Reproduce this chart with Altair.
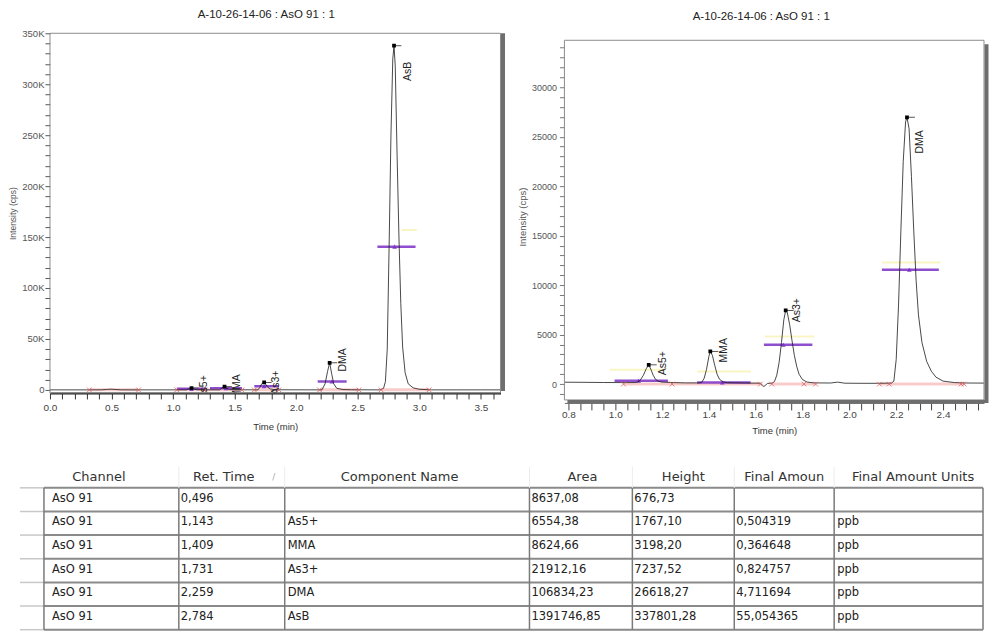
import altair as alt
import pandas as pd

# ---------------- data ----------------
TITLE = "A-10-26-14-06 : AsO 91 : 1"

# full chromatogram (left panel)
full_time = [0.0, 0.3, 0.42, 0.46, 0.496, 0.53, 0.58, 0.7, 1.0, 1.11, 1.125, 1.15, 1.17, 1.19,
             1.38, 1.395, 1.418, 1.435, 1.46, 1.69, 1.705, 1.72, 1.74, 1.755, 1.77, 1.79, 1.83,
             2.21, 2.235, 2.255, 2.272, 2.29, 2.305, 2.33, 2.38, 2.45,
             2.68, 2.71, 2.725, 2.74, 2.755, 2.77, 2.785, 2.795, 2.805, 2.82, 2.835, 2.85, 2.865,
             2.885, 2.91, 2.95, 3.0, 3.1, 3.3, 3.5, 3.66]
full_int = [0, 0, 50, 400, 680, 400, 50, 0, 0, 0, 900, 1770, 900, 100,
            0, 1600, 3200, 1600, 200, 0, 2500, 6000, 7240, 5000, 2500, 900, 100,
            0, 6000, 18000, 26600, 15000, 6000, 1500, 300, 100,
            0, 1500, 8000, 40000, 140000, 250000, 325000, 337800, 318000, 230000, 150000, 85000, 42000,
            17000, 6000, 2000, 600, 0, 0, 0, 0]

# zoomed chromatogram (right panel)
zoom_time = [0.783, 0.85, 0.95, 1.05, 1.09, 1.105, 1.12, 1.133, 1.143, 1.152, 1.162, 1.172, 1.185,
             1.20, 1.25, 1.30, 1.36, 1.37, 1.38, 1.39, 1.40, 1.406, 1.415, 1.425, 1.435, 1.445,
             1.46, 1.48, 1.55, 1.62, 1.635, 1.65, 1.67, 1.68, 1.69, 1.70, 1.71, 1.72, 1.728,
             1.735, 1.745, 1.755, 1.765, 1.775, 1.785, 1.80, 1.82, 1.85, 1.92, 1.95, 1.98, 2.05,
             2.12, 2.18, 2.19, 2.20, 2.21, 2.22, 2.23, 2.24, 2.246, 2.255, 2.265, 2.275, 2.285,
             2.295, 2.31, 2.33, 2.35, 2.37, 2.40, 2.45, 2.50, 2.575]
zoom_int = [190, 180, 160, 150, 160, 330, 880, 1580, 1950, 1500, 900, 480, 280,
            200, 150, 120, 120, 190, 600, 1500, 2800, 3300, 2900, 1900, 1000, 500,
            220, 140, 110, 90, -250, 60, 100, 250, 900, 2200, 4200, 6500, 7440,
            7200, 6000, 4400, 2900, 1800, 1000, 450, 200, 120, 110, 200, 90, 80,
            80, 100, 300, 2500, 8000, 15500, 22500, 26500, 26970, 25800, 21000, 15500, 10500,
            7000, 4200, 2300, 1300, 700, 300, 150, 110, 100]

# left panel peak annotations
full_names = ["As5+", "MMA", "As3+", "DMA", "AsB"]
full_apex_t = [1.15, 1.418, 1.74, 2.272, 2.795]
full_apex_i = [1770, 3200, 7240, 26600, 337800]
full_label_t = [1.25, 1.52, 1.84, 2.384, 2.91]
full_label_i = [14400, 15400, 19000, 40900, 322000]
full_bar_start = [1.03, 1.30, 1.66, 2.175, 2.66]
full_bar_end = [1.27, 1.56, 1.86, 2.41, 2.97]
full_bar_i = [1000, 1600, 3600, 8200, 140600]
full_bar_mark = [1.15, 1.43, 1.74, 2.29, 2.80]
full_yel_start = [2.86]
full_yel_end = [2.98]
full_yel_i = [157000]
full_base_start = [0.32, 1.03, 1.66, 2.19, 2.69]
full_base_end = [0.72, 1.56, 1.86, 2.51, 3.08]
full_cross_t = [0.32, 0.72, 1.03, 1.26, 1.56, 1.66, 1.86, 2.19, 2.51, 2.69, 3.08]

# right panel peak annotations
zoom_names = ["As5+", "MMA", "As3+", "DMA"]
zoom_apex_t = [1.143, 1.406, 1.728, 2.246]
zoom_apex_i = [1950, 3300, 7440, 26970]
zoom_label_t = [1.203, 1.463, 1.778, 2.30]
zoom_label_i = [3330, 4650, 8690, 25650]
zoom_bar_start = [0.997, 1.35, 1.635, 2.139]
zoom_bar_end = [1.225, 1.578, 1.842, 2.382]
zoom_bar_i = [330, 170, 3970, 11550]
zoom_bar_mark = [1.10, 1.457, 1.718, 2.256]
zoom_yel_start = [0.977, 1.35, 1.64, 2.14]
zoom_yel_end = [1.213, 1.58, 1.85, 2.39]
zoom_yel_i = [1440, 1280, 4820, 12300]
zoom_base_start = [1.035, 1.668, 2.128]
zoom_base_end = [1.62, 1.856, 2.49]
zoom_cross_t = [1.035, 1.243, 1.62, 1.668, 1.806, 1.856, 2.128, 2.17, 2.477, 2.49]

# results table
headers = ["Channel", "Ret. Time", "Component Name", "Area", "Height", "Final Amoun", "Final Amount Units"]
channel = ["AsO 91", "AsO 91", "AsO 91", "AsO 91", "AsO 91", "AsO 91"]
ret_time = ["0,496", "1,143", "1,409", "1,731", "2,259", "2,784"]
component = ["", "As5+", "MMA", "As3+", "DMA", "AsB"]
area = ["8637,08", "6554,38", "8624,66", "21912,16", "106834,23", "1391746,85"]
height_vals = ["676,73", "1767,10", "3198,20", "7237,52", "26618,27", "337801,28"]
final_amount = ["", "0,504319", "0,364648", "0,824757", "4,711694", "55,054365"]
units = ["", "ppb", "ppb", "ppb", "ppb", "ppb"]

# ---------------- styling ----------------
FONT = "Liberation Sans, Arial, sans-serif"
TFONT = "DejaVu Sans, Verdana, sans-serif"
PURPLE = "#7a2fc4"
PINK = "#f2a0a0"
YELLOW = "#f5ee9a"
FRAME = "#8c8c8c"


def panel(line_t, line_i, names, apex_t, apex_i, lab_t, lab_i, bar_s, bar_e, bar_i, bar_m,
          yel_s, yel_e, yel_i, base_s, base_e, cross_t, xdom, ydom, w, h, xaxis, yaxis,
          tick_dt, title_offset, title_dx, frame_top, shadow):
    xs = alt.Scale(domain=xdom, nice=False, zero=False)
    ys = alt.Scale(domain=ydom, nice=False, zero=False)
    line_df = pd.DataFrame({"t": line_t, "i": line_i})
    peak_df = pd.DataFrame({"name": names, "t": apex_t, "i": apex_i, "lt": lab_t, "li": lab_i})
    bar_df = pd.DataFrame({"s": bar_s, "e": bar_e, "i": bar_i, "m": bar_m})
    yel_df = pd.DataFrame({"s": yel_s, "e": yel_e, "i": yel_i})
    base_df = pd.DataFrame({"s": base_s, "e": base_e})
    cross_df = pd.DataFrame({"t": cross_t})

    def X(f):
        return alt.X(f, type="quantitative", scale=xs, axis=xaxis)

    def Y(f):
        return alt.Y(f, type="quantitative", scale=ys, axis=yaxis)

    base = alt.Chart(base_df).mark_rule(color=PINK, strokeWidth=3, opacity=0.55, clip=True).encode(
        x=X("s"), x2="e", y=Y("zero")
    ).transform_calculate(zero="0")
    yel = alt.Chart(yel_df).mark_rule(color=YELLOW, strokeWidth=2, opacity=0.6, clip=True).encode(
        x=X("s"), x2="e", y=Y("i"))
    bars = alt.Chart(bar_df).mark_rule(color=PURPLE, strokeWidth=2.5, opacity=0.85, clip=True).encode(
        x=X("s"), x2="e", y=Y("i"))
    bar_pts = alt.Chart(bar_df).mark_point(shape="triangle-up", filled=True, color=PURPLE,
                                           size=22, opacity=0.9, clip=True).encode(
        x=X("m"), y=Y("i"))
    line = alt.Chart(line_df).mark_line(color="#1a1a1a", strokeWidth=0.8, clip=True).encode(
        x=X("t"), y=Y("i"))
    apex_tick = alt.Chart(peak_df).mark_rule(color="#555", strokeWidth=1, clip=True).encode(
        x=X("t"), x2="e:Q", y=Y("i")
    ).transform_calculate(e=f"datum.t + {tick_dt}")
    apex = alt.Chart(peak_df).mark_square(color="#000", size=14, opacity=1, clip=True).encode(
        x=X("t"), y=Y("i"))
    labels = alt.Chart(peak_df).mark_text(angle=270, align="right", baseline="middle",
                                          font=FONT, fontSize=10.5, color="#222", clip=True).encode(
        x=X("lt"), y=Y("li"), text="name:N")
    crosses = alt.Chart(cross_df).mark_point(shape="M-1,-1L1,1M-1,1L1,-1", size=22, filled=False,
                                             color="#e06060", strokeWidth=1, opacity=0.8,
                                             clip=True).encode(
        x=X("t"), y=Y("zero")
    ).transform_calculate(zero="0")

    # frame (drawn explicitly so that its top can sit below the view top)
    fr = pd.DataFrame({"k": [0]})
    frame = [
        alt.Chart(fr).mark_rule(color=FRAME, strokeWidth=1).encode(
            x=alt.value(0), x2=alt.value(w), y=alt.value(frame_top)),
        alt.Chart(fr).mark_rule(color=FRAME, strokeWidth=1).encode(
            x=alt.value(0), x2=alt.value(w), y=alt.value(h)),
        alt.Chart(fr).mark_rule(color=FRAME, strokeWidth=1).encode(
            x=alt.value(0), y=alt.value(frame_top), y2=alt.value(h)),
        alt.Chart(fr).mark_rule(color=FRAME, strokeWidth=1).encode(
            x=alt.value(w), y=alt.value(frame_top), y2=alt.value(h)),
    ]
    extra = []
    if shadow == "right":
        extra.append(alt.Chart(fr).mark_rule(color="#6e6e6e", strokeWidth=4).encode(
            x=alt.value(w + 2.5), y=alt.value(0), y2=alt.value(h - 2)))
    if shadow == "box":
        extra.append(alt.Chart(fr).mark_rule(color="#6e6e6e", strokeWidth=4).encode(
            x=alt.value(w + 2.5), y=alt.value(frame_top + 4), y2=alt.value(h + 3)))
        extra.append(alt.Chart(fr).mark_rule(color="#6e6e6e", strokeWidth=3).encode(
            x=alt.value(3), x2=alt.value(w + 4), y=alt.value(h + 1.5)))

    layers = [base, yel, bars, bar_pts, line, crosses, apex_tick, apex, labels] + frame + extra
    return alt.layer(*layers).properties(
        width=w, height=h,
        title=alt.TitleParams(TITLE, font=FONT, fontSize=11.5, fontWeight="normal", color="#222",
                              anchor="middle", offset=title_offset, dx=title_dx, frame="group"),
        view=alt.ViewBackground(stroke="transparent"),
    )


# ---- left panel axes ----
full_xvals = [round(k * 0.1, 1) for k in range(0, 37)]
full_yvals = [k * 10000 for k in range(0, 36)]
left_xaxis = alt.Axis(values=full_xvals, title="Time (min)", tickSize=6, tickColor="#333",
                      domainColor="#222", domainWidth=2, labelFont=FONT, labelFontSize=10,
                      labelColor="#444", labelPadding=3.5, labelFlush=False, labelOverlap=False,
                      labelExpr="abs(datum.value*2 - round(datum.value*2)) < 0.001 ? format(datum.value, '.1f') : ''",
                      titleFont=FONT, titleFontSize=9.5, titleFontWeight="normal", titleColor="#333",
                      titlePadding=9, grid=False)
left_yaxis = alt.Axis(values=full_yvals, title="Intensity (cps)", tickSize=5, tickColor="#555",
                      domain=False, labelFont=FONT, labelFontSize=9.5, labelColor="#555",
                      labelPadding=1, labelOverlap=False, labelFlush=False,
                      labelExpr="datum.value % 50000 == 0 ? (datum.value == 0 ? '0' : (datum.value/1000) + 'K') : ''",
                      titleFont=FONT, titleFontSize=8.5, titleFontWeight="normal", titleColor="#555",
                      titlePadding=4, grid=False)

# ---- right panel axes ----
zoom_xvals = [round(0.8 + k * 0.05, 2) for k in range(0, 36)]
zoom_yvals = [k * 1000 for k in range(-1, 35)]
right_xaxis = alt.Axis(values=zoom_xvals, title="Time (min)", tickSize=7, tickColor="#444",
                       domainColor="#666", offset=3, labelFont=FONT, labelFontSize=10,
                       labelColor="#444", labelPadding=0, labelFlush=False, labelOverlap=False,
                       labelExpr="abs(datum.value*5 - round(datum.value*5)) < 0.001 ? format(datum.value, '.1f') : ''",
                       titleFont=FONT, titleFontSize=9.5, titleFontWeight="normal", titleColor="#333",
                       titlePadding=6, grid=False)
right_yaxis = alt.Axis(values=zoom_yvals, title="Intensity (cps)", tickSize=5, tickColor="#777",
                       domain=False, labelFont=FONT, labelFontSize=9, labelColor="#555",
                       labelPadding=3, labelOverlap=False, labelFlush=False,
                       labelExpr="datum.value % 5000 == 0 ? format(datum.value, 'd') : ''",
                       titleFont=FONT, titleFontSize=9.5, titleFontWeight="normal", titleColor="#555",
                       titlePadding=3.5, grid=False)

left = panel(full_time, full_int, full_names, full_apex_t, full_apex_i, full_label_t, full_label_i,
             full_bar_start, full_bar_end, full_bar_i, full_bar_mark, full_yel_start, full_yel_end,
             full_yel_i, full_base_start, full_base_end, full_cross_t,
             [0, 3.66], [-3000, 350000], 451, 360, left_xaxis, left_yaxis, 0.06, 7.5, -9,
             0, "right")
right = panel(zoom_time, zoom_int, zoom_names, zoom_apex_t, zoom_apex_i, zoom_label_t, zoom_label_i,
              zoom_bar_start, zoom_bar_end, zoom_bar_i, zoom_bar_mark, zoom_yel_start, zoom_yel_end,
              zoom_yel_i, zoom_base_start, zoom_base_end, zoom_cross_t,
              [0.783, 2.575], [-1600, 35457], 420, 367, right_xaxis, right_yaxis, 0.034, 11, -13,
              7, "box")

# ---------------- table ----------------
# the table view origin is aligned with the left panel's plot origin (page x 48)
PAGE_X0, PAGE_Y0 = 48, 462
col_edges = [18, 42, 177, 283, 528, 631, 733, 833, 982]
col_pad = [8, 2, 3, 2, 2, 2, 3]
row_edges = [488, 511.7, 535.3, 559, 582.7, 606.3, 630]
header_x = [97, 222, 398, 581, 682, 783, 912]
header_y = 477
TW, TH = 934, 170

columns = [channel, ret_time, component, area, height_vals, final_amount, units]
cells = []
for ci, col in enumerate(columns):
    for ri, val in enumerate(col):
        cells.append({"x": col_edges[ci + 1] + col_pad[ci] - PAGE_X0,
                      "y": (row_edges[ri] + row_edges[ri + 1]) / 2 - 1 - PAGE_Y0, "text": val})
cell_df = pd.DataFrame(cells)
head_df = pd.DataFrame({"x": [hx - PAGE_X0 for hx in header_x],
                        "y": [header_y - PAGE_Y0] * 7, "text": headers})
hl_df = pd.DataFrame({"x1": [col_edges[1] - PAGE_X0] * len(row_edges),
                      "x2": [col_edges[-1] - PAGE_X0] * len(row_edges),
                      "y": [r - PAGE_Y0 for r in row_edges]})
hl_sel_df = pd.DataFrame({"x1": [col_edges[0] - PAGE_X0] * len(row_edges),
                          "x2": [col_edges[1] - PAGE_X0] * len(row_edges),
                          "y": [r - PAGE_Y0 for r in row_edges]})
vl_df = pd.DataFrame({"x": [c - PAGE_X0 for c in col_edges[1:]],
                      "y1": [row_edges[0] - PAGE_Y0] * (len(col_edges) - 1),
                      "y2": [row_edges[-1] - PAGE_Y0] * (len(col_edges) - 1)})
vh_df = pd.DataFrame({"x": [c - PAGE_X0 for c in col_edges[2:-1]],
                      "y1": [467 - PAGE_Y0] * (len(col_edges) - 3),
                      "y2": [row_edges[0] - PAGE_Y0] * (len(col_edges) - 3)})
sort_df = pd.DataFrame({"x": [272 - PAGE_X0], "y": [header_y - PAGE_Y0], "text": ["/"]})

tx = alt.Scale(domain=[0, TW], nice=False, zero=False)
ty = alt.Scale(domain=[0, TH], nice=False, zero=False, reverse=True)


def TX(f):
    return alt.X(f, type="quantitative", scale=tx, axis=None)


def TY(f):
    return alt.Y(f, type="quantitative", scale=ty, axis=None)


t_hsel = alt.Chart(hl_sel_df).mark_rule(color="#c8c8c8", strokeWidth=1.5).encode(
    x=TX("x1"), x2="x2", y=TY("y"))
t_hl = alt.Chart(hl_df).mark_rule(color="#8a8a8a", strokeWidth=2).encode(
    x=TX("x1"), x2="x2", y=TY("y"))
t_vl = alt.Chart(vl_df).mark_rule(color="#7a7a7a", strokeWidth=1.5).encode(
    x=TX("x"), y=TY("y1"), y2="y2")
t_vh = alt.Chart(vh_df).mark_rule(color="#ececec", strokeWidth=1).encode(
    x=TX("x"), y=TY("y1"), y2="y2")
t_head = alt.Chart(head_df).mark_text(font=TFONT, fontSize=13, color="#333", align="center",
                                      baseline="middle").encode(x=TX("x"), y=TY("y"), text="text:N")
t_sort = alt.Chart(sort_df).mark_text(font=TFONT, fontSize=9, color="#aaa", align="center",
                                      baseline="middle").encode(x=TX("x"), y=TY("y"), text="text:N")
t_cells = alt.Chart(cell_df).mark_text(font=TFONT, fontSize=11.5, color="#222", align="left",
                                       baseline="middle").encode(x=TX("x"), y=TY("y"), text="text:N")

table = alt.layer(t_hsel, t_hl, t_vl, t_vh, t_head, t_sort, t_cells).properties(
    width=TW, height=TH, view=alt.ViewBackground(stroke="transparent"))

top = alt.hconcat(left, right, spacing=11)
chart = alt.vconcat(top, table, spacing=25).properties(padding=0).configure_view(stroke="transparent")

chart.save("out.html", embed_options={"renderer": "svg", "actions": False})
